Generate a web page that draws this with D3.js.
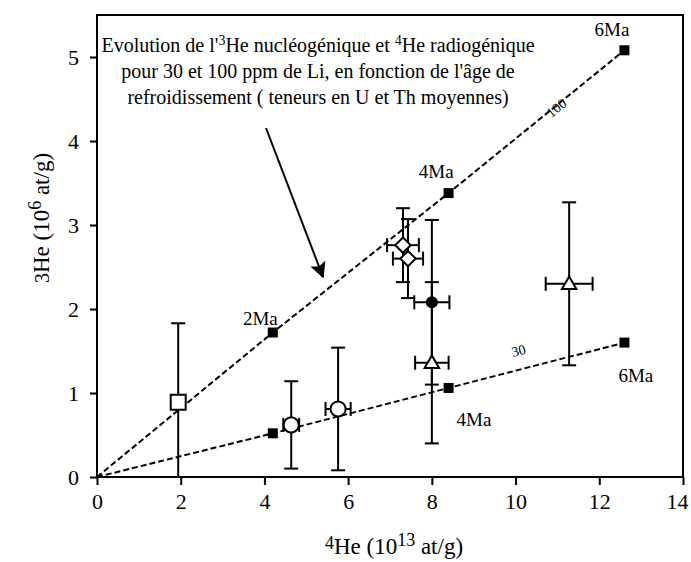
<!DOCTYPE html>
<html>
<head>
<meta charset="utf-8">
<script src="https://cdn.jsdelivr.net/npm/d3@7"></script>
<style>
  body { margin: 0; background: #fff; }
  svg text { font-family: "Liberation Serif", "Times New Roman", serif; fill: #000; }
</style>
</head>
<body>
<svg width="691" height="562"></svg>
<script>
// axis ticks
var xTicks = [0, 2, 4, 6, 8, 10, 12, 14];
var yTicks = [0, 1, 2, 3, 4, 5];

// model curves (100 and 30 ppm Li), ages 2, 4, 6 Ma
var ageLabels = ["2Ma", "4Ma", "6Ma"];
var model100X = [0, 4.2, 8.4, 12.6];
var model100Y = [0, 1.72, 3.38, 5.08];
var model30X = [0, 4.2, 8.4, 12.6];
var model30Y = [0, 0.52, 1.06, 1.60];

// samples
var sampleShape = ["square", "circle", "circle", "diamond", "diamond", "dot", "triangle", "triangle"];
var sampleX     = [1.94, 4.64, 5.76, 7.31, 7.43, 8.0, 8.0, 11.28];
var sampleY     = [0.89, 0.62, 0.81, 2.76, 2.60, 2.08, 1.36, 2.30];
var sampleXErr  = [0, 0.19, 0.30, 0.38, 0.36, 0.42, 0.40, 0.56];
var sampleYErr  = [0.94, 0.52, 0.73, 0.44, 0.47, 0.98, 0.96, 0.97];

var svg = d3.select("svg"),
    pL = 97, pR = 683, pT = 15, pB = 477;

var x = d3.scaleLinear().domain([0, 14]).range([pL, pR]);
var y = d3.scaleLinear().domain([0, 5.5]).range([pB, pT]);

var defs = svg.append("defs");
defs.append("clipPath").attr("id", "plotclip")
  .append("rect").attr("x", pL).attr("y", pT)
  .attr("width", pR - pL).attr("height", pB - pT);

// axes
var xAxis = svg.append("g")
    .attr("transform", "translate(0," + pB + ")")
    .call(d3.axisBottom(x).tickValues(xTicks).tickSize(8).tickPadding(7).tickFormat(d3.format("d")));
var yAxis = svg.append("g")
    .attr("transform", "translate(" + pL + ",0)")
    .call(d3.axisLeft(y).tickValues(yTicks).tickSize(7).tickPadding(11).tickFormat(d3.format("d")));
[xAxis, yAxis].forEach(function(a) {
  a.select(".domain").remove();
  a.selectAll("line").attr("stroke", "#000").attr("stroke-width", 2);
  a.selectAll("text").style("font-family", "Liberation Serif").style("font-size", "22px").attr("fill", "#000");
});
xAxis.selectAll("text").attr("dy", "0.75em")
  .attr("dx", function(d) { return d === 14 ? -6 : 0; });

// frame
svg.append("rect")
  .attr("x", pL).attr("y", pT)
  .attr("width", pR - pL).attr("height", pB - pT)
  .attr("fill", "none").attr("stroke", "#000").attr("stroke-width", 2);

// model dashed lines
var line = d3.line().x(function(d) { return x(d[0]); }).y(function(d) { return y(d[1]); });
var models = [d3.zip(model100X, model100Y), d3.zip(model30X, model30Y)];
models.forEach(function(m) {
  svg.append("path").datum(m)
    .attr("d", line)
    .attr("fill", "none").attr("stroke", "#000")
    .attr("stroke-width", 2).attr("stroke-dasharray", "6,3");
  svg.selectAll(null).data(m.slice(1)).enter().append("rect")
    .attr("x", function(d) { return x(d[0]) - 5; })
    .attr("y", function(d) { return y(d[1]) - 5; })
    .attr("width", 10).attr("height", 10)
    .attr("fill", "#000");
});

// age labels: upper line labels end near the square, lower ones start near it
var ageDy100 = [-8, -15, -14];
var ageOff30 = [null, [8, 38], [-6, 39]];
model100X.slice(1).forEach(function(v, i) {
  svg.append("text").attr("x", x(v) + 5).attr("y", y(model100Y[i + 1]) + ageDy100[i])
    .attr("text-anchor", "end").style("font-size", "19px").text(ageLabels[i]);
});
model30X.slice(1).forEach(function(v, i) {
  if (!ageOff30[i]) return;
  svg.append("text").attr("x", x(v) + ageOff30[i][0]).attr("y", y(model30Y[i + 1]) + ageOff30[i][1])
    .style("font-size", "19px").text(ageLabels[i]);
});

// line labels
var ang100 = Math.atan2(y(0) - y(model100Y[3]), x(model100X[3]) - x(0)) * 180 / Math.PI;
var ang30 = Math.atan2(y(0) - y(model30Y[3]), x(model30X[3]) - x(0)) * 180 / Math.PI;
svg.append("text").attr("transform", "translate(" + x(11.05) + "," + y(4.35) + ") rotate(" + (-ang100) + ")")
  .attr("text-anchor", "middle").style("font-size", "14px").text("100");
svg.append("text").attr("transform", "translate(" + x(10.1) + "," + y(1.45) + ") rotate(" + (-ang30) + ")")
  .attr("text-anchor", "middle").style("font-size", "14px").text("30");

// error bars
var eb = svg.append("g").attr("clip-path", "url(#plotclip)")
  .attr("stroke", "#000").attr("stroke-width", 2);
var cap = 7;
sampleX.forEach(function(v, i) {
  var cx = x(v), cy = y(sampleY[i]);
  var y1 = y(sampleY[i] + sampleYErr[i]), y2 = y(sampleY[i] - sampleYErr[i]);
  eb.append("line").attr("x1", cx).attr("x2", cx).attr("y1", y1).attr("y2", y2);
  eb.append("line").attr("x1", cx - cap).attr("x2", cx + cap).attr("y1", y1).attr("y2", y1);
  eb.append("line").attr("x1", cx - cap).attr("x2", cx + cap).attr("y1", y2).attr("y2", y2);
  if (sampleXErr[i] > 0) {
    var x1 = x(v - sampleXErr[i]), x2 = x(v + sampleXErr[i]);
    eb.append("line").attr("x1", x1).attr("x2", x2).attr("y1", cy).attr("y2", cy);
    eb.append("line").attr("x1", x1).attr("x2", x1).attr("y1", cy - cap).attr("y2", cy + cap);
    eb.append("line").attr("x1", x2).attr("x2", x2).attr("y1", cy - cap).attr("y2", cy + cap);
  }
});

// markers
var symbols = {
  square: d3.symbol().type(d3.symbolSquare).size(225),
  circle: d3.symbol().type(d3.symbolCircle).size(180),
  diamond: d3.symbol().type(d3.symbolDiamond2).size(150),
  dot: d3.symbol().type(d3.symbolCircle).size(80),
  triangle: d3.symbol().type(d3.symbolTriangle2).size(150)
};
sampleX.forEach(function(v, i) {
  var s = sampleShape[i];
  svg.append("path")
    .attr("d", symbols[s]())
    .attr("transform", "translate(" + x(v) + "," + (y(sampleY[i]) + (s === "triangle" ? 1 : 0)) + ")")
    .attr("fill", s === "dot" ? "#000" : "#fff")
    .attr("stroke", "#000").attr("stroke-width", 2);
});

// annotation
var note = svg.append("text").attr("text-anchor", "middle").style("font-size", "20px");
var t1 = note.append("tspan").attr("x", 318).attr("y", 52);
t1.append("tspan").text("Evolution de l'");
t1.append("tspan").attr("dy", -7).style("font-size", "14px").text("3");
t1.append("tspan").attr("dy", 7).text("He nucléogénique et ");
t1.append("tspan").attr("dy", -7).style("font-size", "14px").text("4");
t1.append("tspan").attr("dy", 7).text("He radiogénique");
note.append("tspan").attr("x", 318).attr("y", 78).text("pour 30 et 100 ppm de Li,  en fonction de l'âge de");
note.append("tspan").attr("x", 318).attr("y", 104).text("refroidissement ( teneurs en U et Th moyennes)");

// arrow
defs.append("marker").attr("id", "head")
  .attr("viewBox", "0 0 10 10").attr("refX", 9).attr("refY", 5)
  .attr("markerWidth", 16).attr("markerHeight", 16).attr("markerUnits", "userSpaceOnUse")
  .attr("orient", "auto")
  .append("path").attr("d", "M0,0L10,5L0,10L2,5Z").attr("fill", "#000");
svg.append("line").attr("x1", 266).attr("y1", 128).attr("x2", 323).attr("y2", 277)
  .attr("stroke", "#000").attr("stroke-width", 2).attr("marker-end", "url(#head)");

// axis titles
var xt = svg.append("text").attr("x", 394).attr("y", 554).attr("text-anchor", "middle").style("font-size", "23px");
xt.append("tspan").attr("dy", -5).style("font-size", "18px").text("4");
xt.append("tspan").attr("dy", 5).text("He (10");
xt.append("tspan").attr("dy", -8).style("font-size", "18px").text("13");
xt.append("tspan").attr("dy", 8).text(" at/g)");

var yt = svg.append("text").attr("transform", "translate(49,218) rotate(-90)")
  .attr("text-anchor", "middle").style("font-size", "23px");
yt.append("tspan").style("font-size", "20px").text("3");
yt.append("tspan").text("He (10");
yt.append("tspan").attr("dy", -8).style("font-size", "18px").text("6");
yt.append("tspan").attr("dy", 8).text(" at/g)");
</script>
</body>
</html>
